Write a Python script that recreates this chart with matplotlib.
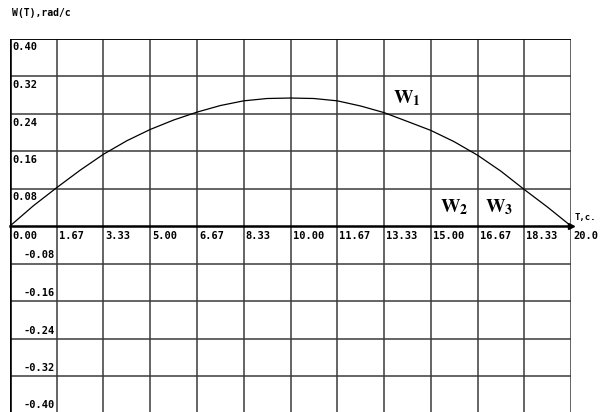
import matplotlib.pyplot as plt
import numpy as np

# angular velocity W1(t), rad/c, read at half-grid steps
t_vals = [0.00, 0.83, 1.67, 2.50, 3.33, 4.17, 5.00, 5.83, 6.67, 7.50, 8.33, 9.17,
          10.00, 10.83, 11.67, 12.50, 13.33, 14.17, 15.00, 15.83, 16.67, 17.50,
          18.33, 19.17, 20.00]
w1_vals = [0.000, 0.043, 0.082, 0.119, 0.153, 0.182, 0.206, 0.226, 0.243, 0.257,
           0.267, 0.272, 0.273, 0.272, 0.267, 0.256, 0.242, 0.223, 0.204, 0.180,
           0.151, 0.117, 0.078, 0.040, 0.000]

x_ticks = [0.0, 1.6667, 3.3333, 5.0, 6.6667, 8.3333, 10.0, 11.6667, 13.3333,
           15.0, 16.6667, 18.3333, 20.0]
x_labels = ['0.00', '1.67', '3.33', '5.00', '6.67', '8.33', '10.00', '11.67',
            '13.33', '15.00', '16.67', '18.33', '20.0']
y_ticks = [0.40, 0.32, 0.24, 0.16, 0.08, -0.08, -0.16, -0.24, -0.32, -0.40]
y_labels = ['0.40', '0.32', '0.24', '0.16', '0.08', '-0.08', '-0.16', '-0.24',
            '-0.32', '-0.40']

W, H = 604, 412
fig = plt.figure(figsize=(W / 100, H / 100), dpi=100)
ax = fig.add_axes([10 / W, -1.5 / H, 561 / W, 375 / H])
ax.set_xlim(0, 20)
ax.set_ylim(-0.40, 0.40)
for s in ax.spines.values():
    s.set_visible(False)
ax.set_xticks([])
ax.set_yticks([])

mono = dict(family='DejaVu Sans Mono', fontweight='bold', color='black')

# grid
for x in x_ticks[1:]:
    ax.axvline(x, color='#3a3a3a', lw=1.1, zorder=1)
for y in y_ticks:
    ax.axhline(y, color='#3a3a3a', lw=1.1, zorder=1)
ax.axhline(0.40, color='black', lw=1.2, zorder=1)

# axes
ax.axvline(0, color='black', lw=2.6, zorder=3)
ax.plot([0, 20], [0, 0], color='black', lw=1.8, zorder=3, clip_on=False)
ax.plot([20], [0], marker='>', color='black', ms=5, zorder=4, clip_on=False)

# curve
ax.plot(t_vals, w1_vals, color='black', lw=0.9, zorder=2)

# tick labels drawn inside the grid cells
for x, lab in zip(x_ticks, x_labels):
    ax.annotate(lab, (x, 0), xytext=(2, -5), textcoords='offset pixels',
                ha='left', va='top', fontsize=7.5, **mono)
for y, lab in zip(y_ticks, y_labels):
    if y > 0:
        ax.annotate(lab, (0, y), xytext=(2, -4), textcoords='offset pixels',
                    ha='left', va='top', fontsize=7.5, **mono)
    else:
        ax.annotate(lab, (1.6667, y), xytext=(-2, 3), textcoords='offset pixels',
                    ha='right', va='bottom', fontsize=7.5, annotation_clip=False, **mono)

ax.annotate('T,c.', (20, 0), xytext=(4, 4), textcoords='offset pixels',
            ha='left', va='bottom', fontsize=6.5, **mono)
fig.text(12 / W, 1 - 13 / H, 'W(T),rad/c', ha='left', va='center', fontsize=7, **mono)

# curve names
plt.rcParams['mathtext.fontset'] = 'stix'
ax.text(13.65, 0.262, r'$\mathbf{W_1}$', fontsize=14, ha='left', va='baseline')
ax.text(15.33, 0.030, r'$\mathbf{W_2}$', fontsize=14, ha='left', va='baseline')
ax.text(16.93, 0.030, r'$\mathbf{W_3}$', fontsize=14, ha='left', va='baseline')

fig.savefig('out.png', dpi=100)
